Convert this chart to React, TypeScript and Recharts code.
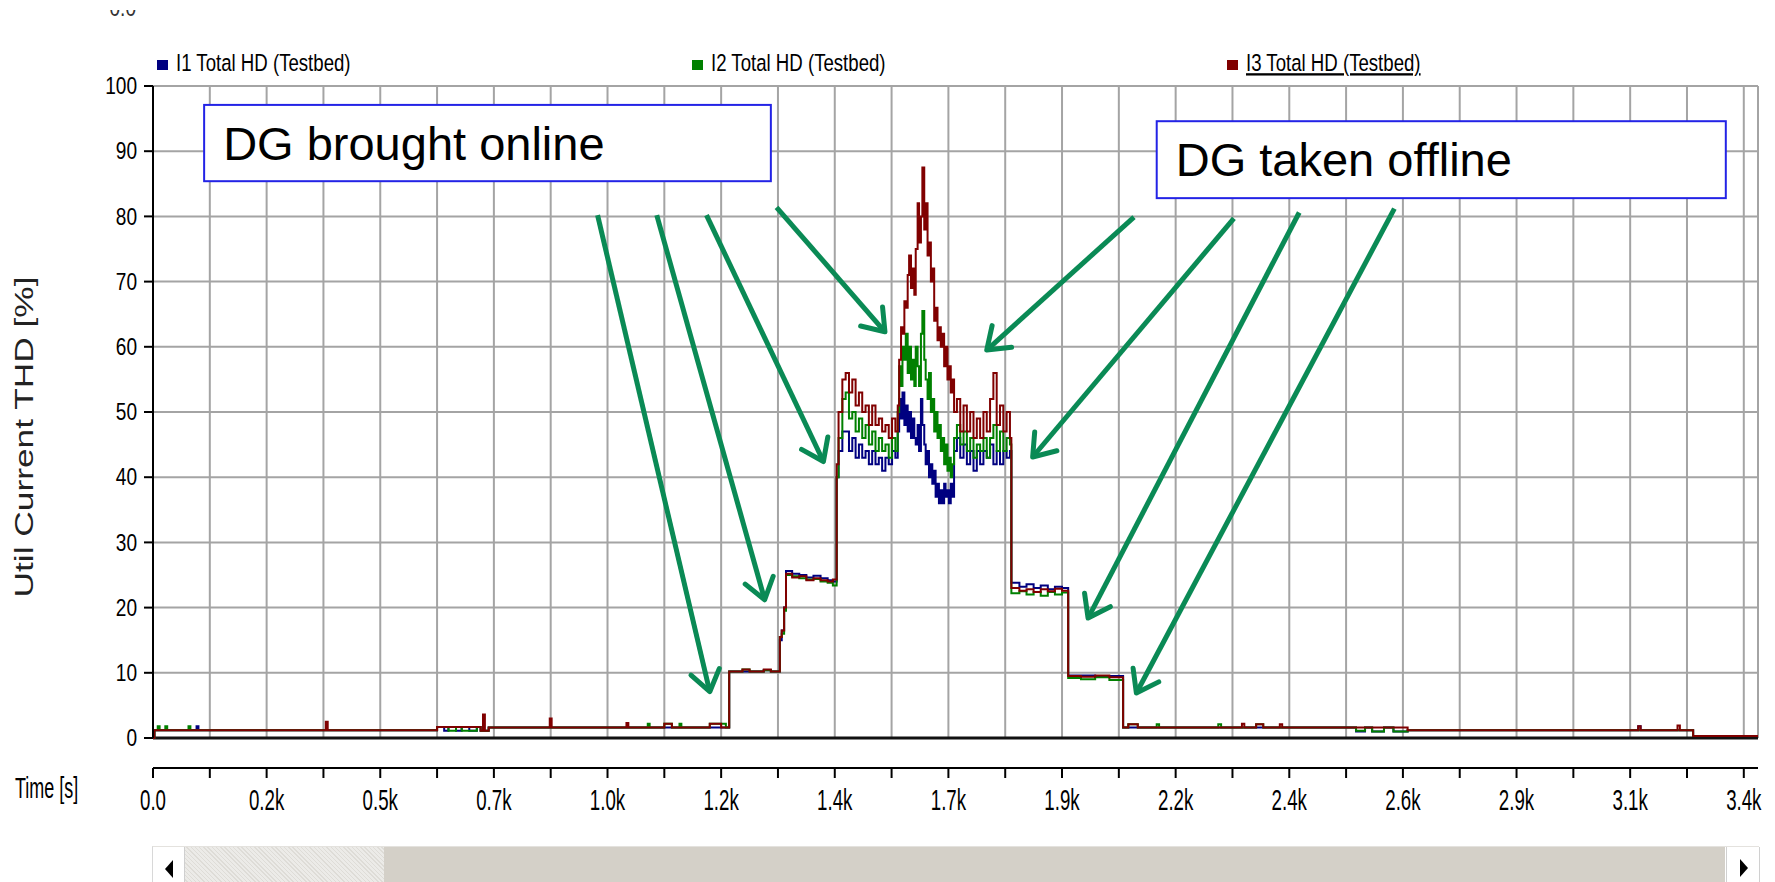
import React from 'react';
import {
  CartesianGrid,
  Legend,
  Line,
  LineChart,
  ReferenceArea,
  ReferenceLine,
  XAxis,
  YAxis,
} from 'recharts';

// Total harmonic distortion of the utility current.
const timeS = [
  0, 3, 10, 14, 26, 30, 75, 79, 92, 96,
  365, 369, 600, 615, 624, 640, 652, 668, 684, 692,
  697, 701, 709, 838, 842, 1000, 1004, 1045, 1049, 1080,
  1096, 1112, 1116, 1176, 1200, 1210, 1217, 1245, 1260, 1290,
  1305, 1324, 1328, 1333, 1337, 1350, 1365, 1380, 1395, 1410,
  1425, 1436, 1444, 1448, 1456, 1463, 1470, 1477, 1484, 1491,
  1498, 1505, 1512, 1519, 1526, 1533, 1540, 1547, 1554, 1561,
  1568, 1573, 1576, 1580, 1583, 1587, 1590, 1594, 1597, 1601,
  1604, 1608, 1611, 1615, 1618, 1622, 1625, 1629, 1632, 1636,
  1639, 1643, 1646, 1650, 1653, 1657, 1660, 1664, 1667, 1671,
  1674, 1678, 1681, 1685, 1688, 1692, 1698, 1705, 1712, 1719,
  1726, 1733, 1740, 1747, 1754, 1761, 1768, 1775, 1782, 1789,
  1796, 1803, 1810, 1813, 1830, 1845, 1860, 1875, 1890, 1905,
  1920, 1933, 1960, 1990, 2020, 2049, 2060, 2080, 2120, 2125,
  2250, 2256, 2300, 2305, 2330, 2345, 2380, 2385, 2541, 2560,
  2575, 2600, 2620, 2650, 3137, 3142, 3220, 3225, 3253, 3390,
];

const i1Thd = [
  0, 1.2, 1.2, 1.2, 1.2, 1.2, 1.2, 1.2, 1.8, 1.2,
  1.2, 1.2, 1.7, 1.1, 1.7, 1.1, 1.7, 1.1, 1.7, 1.1,
  1.1, 1.1, 1.6, 1.6, 1.6, 1.6, 1.6, 1.6, 1.6, 1.6,
  1.6, 1.6, 1.6, 1.6, 1.6, 1.6, 10.2, 10.2, 10.2, 10.4,
  10.2, 15.0, 16.5, 20.0, 25.6, 25.2, 25.0, 24.6, 24.9, 24.5,
  24.2, 24.0, 40, 44, 47, 47, 44, 46, 43, 45,
  43, 44, 42, 44, 42, 43, 41, 43, 42, 44,
  43, 47, 52, 49, 53, 48, 51, 47, 50, 46,
  49, 46, 45, 48, 44, 52, 48, 45, 42, 44,
  40, 42, 39, 41, 37, 39, 36, 38, 36, 39,
  37, 38, 36, 39, 37, 44, 46, 43, 45, 42,
  44, 41, 44, 42, 44, 43, 45, 42, 44, 42,
  44, 43, 44, 23.8, 23.2, 23.6, 23.0, 23.4, 22.8, 23.2,
  23.0, 9.6, 9.6, 9.4, 9.5, 1.6, 1.6, 1.6, 1.6, 1.6,
  1.6, 1.6, 1.6, 1.6, 1.6, 1.6, 1.6, 1.6, 1.0, 1.6,
  1.0, 1.6, 1.0, 1.2, 1.8, 1.2, 1.2, 1.2, 0.3, 0.3,
];

const i2Thd = [
  0, 1.2, 1.8, 1.2, 1.8, 1.2, 1.8, 1.2, 1.2, 1.2,
  1.2, 1.2, 1.7, 1.7, 1.1, 1.7, 1.1, 1.1, 1.7, 1.1,
  1.1, 1.1, 1.6, 1.6, 1.6, 1.6, 1.6, 2.2, 1.6, 2.2,
  1.6, 2.2, 1.6, 2.2, 2.2, 1.6, 10.2, 10.5, 10.2, 10.4,
  10.2, 15.5, 16.0, 19.5, 25.0, 24.8, 24.5, 24.3, 24.4, 24.0,
  23.8, 23.4, 40, 46, 52, 53, 49, 50, 47, 49,
  46, 48, 45, 47, 44, 46, 44, 45, 43, 46,
  44, 50, 57, 54, 60, 58, 62, 56, 60, 55,
  58, 54, 60, 57, 54, 62, 65.5, 58, 55, 52,
  56, 50, 52, 47, 50, 46, 48, 44, 46, 42,
  45, 41, 43, 40, 42, 46, 48, 45, 47, 44,
  46, 43, 45, 44, 46, 43, 46, 48, 44, 47,
  44, 46, 45, 22.2, 22.5, 22.0, 22.4, 21.8, 22.4, 22.0,
  22.3, 9.2, 9.0, 9.3, 8.9, 1.6, 2.1, 1.6, 2.1, 1.6,
  2.1, 1.6, 1.6, 1.6, 2.1, 1.6, 1.6, 1.6, 1.1, 1.6,
  1.0, 1.6, 1.0, 1.2, 1.2, 1.2, 1.2, 1.2, 0.3, 0.3,
];

const i3Thd = [
  0, 1.2, 1.2, 1.2, 1.2, 1.2, 1.2, 1.2, 1.2, 1.2,
  2.5, 1.2, 1.7, 1.7, 1.7, 1.7, 1.7, 1.7, 1.7, 1.1,
  3.6, 1.1, 1.6, 3.0, 1.6, 2.3, 1.6, 1.6, 1.6, 2.2,
  1.6, 1.6, 1.6, 2.2, 1.6, 1.6, 10.2, 10.5, 10.2, 10.5,
  10.2, 15.5, 16.5, 20.0, 25.2, 24.6, 24.8, 24.2, 24.5, 24.2,
  24.0, 24.3, 42, 50, 55, 56, 53, 55, 51, 53,
  50, 51, 48, 51, 48, 49, 47, 48, 46, 49,
  47, 51, 58, 63, 62, 67, 66, 71, 74, 69,
  72, 68, 75, 82, 76, 80, 87.5, 78, 82, 74,
  76, 70, 72, 64, 66, 61, 63, 60, 62, 57,
  60, 55, 57, 53, 55, 50, 52, 47, 51, 47,
  50, 46, 49, 46, 50, 47, 52, 56, 48, 51,
  47, 50, 46, 23.0, 22.6, 22.8, 22.4, 22.8, 22.5, 22.9,
  22.6, 9.5, 9.4, 9.6, 9.3, 1.6, 2.1, 1.6, 1.6, 1.6,
  1.6, 1.6, 2.2, 1.6, 2.1, 1.6, 2.1, 1.6, 1.6, 1.6,
  1.6, 1.6, 1.6, 1.2, 1.8, 1.2, 1.9, 1.2, 0.3, 0.3,
];

const yTicks = [0, 10, 20, 30, 40, 50, 60, 70, 80, 90, 100];
const gridTimes = [
  0, 120, 240, 360, 480, 600, 720, 840, 960, 1080, 1200, 1320, 1440, 1560, 1680,
  1800, 1920, 2040, 2160, 2280, 2400, 2520, 2640, 2760, 2880, 3000, 3120, 3240, 3360,
];
const labelTimes = [0, 240, 480, 720, 960, 1200, 1440, 1680, 1920, 2160, 2400, 2640, 2880, 3120, 3360];
const timeLabels = ['0.0', '0.2k', '0.5k', '0.7k', '1.0k', '1.2k', '1.4k', '1.7k', '1.9k', '2.2k', '2.4k', '2.6k', '2.9k', '3.1k', '3.4k'];
const timeMax = 3390;

const seriesKeys = ['i1', 'i2', 'i3'];
const seriesNames = ['I1 Total HD (Testbed)', 'I2 Total HD (Testbed)', 'I3 Total HD (Testbed)'];
const seriesColors = ['#000080', '#008000', '#800000'];

// callouts, in data units
const noteBoxes = [
  { text: 'DG brought online', x1: 108, x2: 1305, y1: 85.4, y2: 97.1 },
  { text: 'DG taken offline', x1: 2120, x2: 3322, y1: 82.8, y2: 94.6 },
];
const noteArrows = [
  [939, 80.2, 1176, 7.1],
  [1064, 80.2, 1292, 21.2],
  [1169, 80.2, 1416, 42.4],
  [1317, 81.4, 1546, 62.3],
  [2072, 79.9, 1761, 59.5],
  [2283, 79.7, 1858, 43.1],
  [2421, 80.6, 1975, 18.4],
  [2622, 81.2, 2077, 6.9],
];

const rows = timeS.map((t, k) => ({ t, i1: i1Thd[k], i2: i2Thd[k], i3: i3Thd[k] }));

const SANS = "'Liberation Sans', Arial, sans-serif";
const ARROW = '#0a8a55';
const legendX = [157, 692, 1227];

const YTick = ({ x, y, payload }: any) => (
  <text
    transform={`translate(${x},${y}) scale(0.83,1)`}
    textAnchor="end"
    dy="0.36em"
    fontSize={23}
    fontFamily={SANS}
    fill="#000"
  >
    {payload.value}
  </text>
);

const TimeTick = ({ x, y, payload }: any) => {
  const k = labelTimes.indexOf(payload.value);
  if (k < 0) return <g />;
  return (
    <text
      transform={`translate(${x},${y + 30}) scale(0.645,1)`}
      textAnchor="middle"
      fontSize={29}
      fontFamily={SANS}
      fill="#000"
    >
      {timeLabels[k]}
    </text>
  );
};

const yTitle = ({ viewBox }: any) => (
  <text
    transform={`translate(${viewBox.x + 33},${viewBox.y + viewBox.height / 2 + 25}) rotate(-90)`}
    textAnchor="middle"
    fontSize={26}
    fontFamily={SANS}
    fill="#222"
    textLength={321}
    lengthAdjust="spacingAndGlyphs"
  >
    Util Current THD [%]
  </text>
);

const timeTitle = ({ viewBox }: any) => (
  <text
    transform={`translate(${viewBox.x - 138},${viewBox.y + 30}) scale(0.62,1)`}
    fontSize={29}
    fontFamily={SANS}
    fill="#000"
  >
    Time [s]
  </text>
);

const renderLegend = ({ payload }: any) => (
  <svg width={1775} height={86} style={{ display: 'block' }}>
    {(payload || []).map((e: any, i: number) => (
      <g key={e.value}>
        <rect x={legendX[i]} y={60} width={11} height={10} fill={e.color} />
        <text
          transform={`translate(${legendX[i] + 19},71) scale(0.8,1)`}
          fontSize={23.3}
          fontFamily={SANS}
          fill="#000"
          style={i === 2 ? { textDecoration: 'underline' } : undefined}
        >
          {e.value}
        </text>
      </g>
    ))}
  </svg>
);

const arrowShape = (p: any) => {
  const { x1, y1, x2, y2 } = p;
  const ang = Math.atan2(y2 - y1, x2 - x1);
  const len = 25;
  const spread = 0.62;
  const ax = x2 - len * Math.cos(ang - spread);
  const ay = y2 - len * Math.sin(ang - spread);
  const bx = x2 - len * Math.cos(ang + spread);
  const by = y2 - len * Math.sin(ang + spread);
  return (
    <g>
      <line x1={x1} y1={y1} x2={x2} y2={y2} stroke={ARROW} strokeWidth={5} />
      <polyline
        points={`${ax},${ay} ${x2},${y2} ${bx},${by}`}
        fill="none"
        stroke={ARROW}
        strokeWidth={5}
        strokeLinejoin="round"
        strokeLinecap="round"
      />
    </g>
  );
};

const boxShape = (text: string) => (p: any) => (
  <g>
    <rect x={p.x} y={p.y} width={p.width} height={p.height} fill="#fff" stroke="#2323e6" strokeWidth={2} />
    <text x={p.x + 19} y={p.y + 55} fontSize={47} fontFamily={SANS} fill="#000">
      {text}
    </text>
  </g>
);

export default function App() {
  return (
    <div
      style={{
        position: 'fixed',
        left: 0,
        top: 0,
        width: 1775,
        height: 882,
        background: '#fff',
        overflow: 'hidden',
      }}
    >
      <LineChart
        width={1775}
        height={882}
        data={rows}
        margin={{ top: 86, right: 17, bottom: 54, left: 0 }}
      >
        <XAxis
          xAxisId="spacer"
          dataKey="t"
          type="number"
          domain={[0, timeMax]}
          height={30}
          axisLine={false}
          tickLine={false}
          tick={false}
        />
        <XAxis
          xAxisId="time"
          dataKey="t"
          type="number"
          domain={[0, timeMax]}
          ticks={gridTimes}
          interval={0}
          height={60}
          axisLine={{ stroke: '#000', strokeWidth: 2 }}
          tickLine={{ stroke: '#000', strokeWidth: 2 }}
          tickSize={10}
          tick={TimeTick}
          label={timeTitle}
        />
        <YAxis
          domain={[0, 100]}
          ticks={yTicks}
          interval={0}
          width={153}
          axisLine={{ stroke: '#000', strokeWidth: 2 }}
          tickLine={{ stroke: '#000', strokeWidth: 2 }}
          tickSize={9}
          tickMargin={7}
          tick={YTick}
          label={yTitle}
        />
        <CartesianGrid xAxisId="time" stroke="#a4a4a4" strokeWidth={2} />
        <ReferenceLine xAxisId="time" x={timeMax} stroke="#a4a4a4" strokeWidth={2} />
        <ReferenceLine xAxisId="time" y={0} stroke="#111" strokeWidth={3} />
        {noteBoxes.map((b) => (
          <ReferenceArea
            key={b.text}
            xAxisId="time"
            x1={b.x1}
            x2={b.x2}
            y1={b.y1}
            y2={b.y2}
            shape={boxShape(b.text)}
          />
        ))}
        <Legend
          layout="horizontal"
          verticalAlign="middle"
          align="center"
          wrapperStyle={{ top: 0, left: 0, width: 1775, height: 86 }}
          content={renderLegend}
        />
        {seriesKeys.map((key, i) => (
          <Line
            key={key}
            xAxisId="time"
            type="stepAfter"
            dataKey={key}
            name={seriesNames[i]}
            stroke={seriesColors[i]}
            strokeWidth={2}
            dot={false}
            activeDot={false}
            isAnimationActive={false}
          />
        ))}
        {noteArrows.map((a, k) => (
          <ReferenceLine
            key={k}
            xAxisId="time"
            segment={[
              { x: a[0], y: a[1] },
              { x: a[2], y: a[3] },
            ]}
            shape={arrowShape}
          />
        ))}
      </LineChart>

      {/* clipped label left over from the panel above */}
      <div style={{ position: 'absolute', left: 100, top: 10, width: 40, height: 7, overflow: 'hidden' }}>
        <svg width={40} height={7} style={{ display: 'block' }}>
          <text transform="translate(36,6) scale(0.83,1)" textAnchor="end" fontSize={23} fontFamily={SANS} fill="#333">
            0.0
          </text>
        </svg>
      </div>

      {/* scroll bar under the time axis */}
      <div
        style={{
          position: 'absolute',
          left: 152,
          top: 846,
          width: 1606,
          height: 36,
          background: '#fff',
          borderTop: '1px solid #e4e2de',
          borderLeft: '1px solid #d8d8d8',
        }}
      >
        <div
          style={{
            position: 'absolute',
            left: 12,
            top: 13,
            width: 0,
            height: 0,
            borderTop: '9px solid transparent',
            borderBottom: '9px solid transparent',
            borderRight: '8px solid #000',
          }}
        />
        <div
          style={{
            position: 'absolute',
            left: 31,
            top: 0,
            width: 200,
            bottom: 0,
            borderLeft: '1px solid #cfcfcf',
            background: 'repeating-linear-gradient(45deg, #ecebe8 0px, #ecebe8 2px, #dedcd7 2px, #dedcd7 3px)',
          }}
        />
        <div style={{ position: 'absolute', left: 231, top: 0, width: 1341, bottom: 0, background: '#d4d0c8' }} />
        <div
          style={{
            position: 'absolute',
            left: 1573,
            top: 0,
            width: 32,
            bottom: 0,
            background: '#fff',
            borderLeft: '1px solid #d0d0d0',
            borderRight: '1px solid #d0d0d0',
          }}
        />
        <div
          style={{
            position: 'absolute',
            left: 1587,
            top: 12,
            width: 0,
            height: 0,
            borderTop: '9px solid transparent',
            borderBottom: '9px solid transparent',
            borderLeft: '8px solid #000',
          }}
        />
      </div>
    </div>
  );
}
